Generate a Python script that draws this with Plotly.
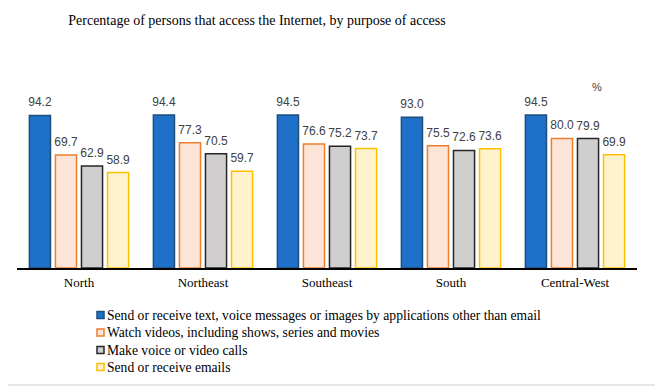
import plotly.graph_objects as go

regions = ["North", "Northeast", "Southeast", "South", "Central-West"]
series_names = [
    "Send or receive text, voice messages or images by applications other than email",
    "Watch videos, including shows, series and movies",
    "Make voice or video calls",
    "Send or receive emails",
]
apps_values = [94.2, 94.4, 94.5, 93.0, 94.5]
videos_values = [69.7, 77.3, 76.6, 75.5, 80.0]
calls_values = [62.9, 70.5, 75.2, 72.6, 79.9]
emails_values = [58.9, 59.7, 73.7, 73.6, 69.9]

fills = ["#1F70C8", "#FCE4D6", "#D0CECE", "#FFF2CC"]
lines = ["#1F4E79", "#ED7D31", "#262626", "#FFC000"]

OFF = 8  # default page body margin
W, H = 663 - OFF, 392 - OFF
# plot area in page pixels: x 17..637, y 106..268
L = 17 - OFF
R = W - (637 - OFF)
T = 106 - OFF
B = H - (268 - OFF)
pw, ph = W - L - R, H - T - B

def px_x(x):
    return (x - OFF - L) / pw

def px_y(y):
    return (H - B - (y - OFF)) / ph

fig = go.Figure()
all_vals = [apps_values, videos_values, calls_values, emails_values]
for i, (name, vals, fc, lc) in enumerate(zip(series_names, all_vals, fills, lines)):
    fig.add_trace(go.Bar(
        x=regions, y=vals, name=name, offsetgroup=str(i),
        marker=dict(color=fc, line=dict(color=lc, width=1.5)),
        showlegend=False, hoverinfo="skip",
    ))
for i, vals in enumerate(all_vals):
    fig.add_trace(go.Scatter(
        x=regions, y=vals, mode="markers+text", offsetgroup=str(i),
        text=[f"{v:.1f}" for v in vals], textposition="top center",
        textfont=dict(family="Liberation Sans", size=12, color="#404040"),
        marker=dict(size=8, opacity=0), showlegend=False, cliponaxis=False,
        hoverinfo="skip",
    ))

annotations = [dict(
    text="%", x=px_x(597), y=px_y(87), xref="paper", yref="paper",
    xanchor="center", yanchor="middle",
    showarrow=False, font=dict(family="Liberation Sans", size=11, color="#404040"),
)]
shapes = [dict(
    type="rect", xref="paper", yref="paper",
    x0=px_x(7), x1=px_x(656), y0=px_y(385), y1=px_y(3),
    line=dict(color="#E6E6E6", width=2), fillcolor="rgba(0,0,0,0)", layer="below",
)]
# custom legend
row_y = [315, 332.5, 350, 367]
for name, fc, lc, yy in zip(series_names, fills, lines, row_y):
    shapes.append(dict(
        type="rect", xref="paper", yref="paper",
        x0=px_x(97), x1=px_x(104), y0=px_y(yy + 3.5), y1=px_y(yy - 3.5),
        line=dict(color=lc, width=1.5), fillcolor=fc,
    ))
    annotations.append(dict(
        text=name, x=px_x(105), y=px_y(yy), xref="paper", yref="paper",
        xanchor="left", yanchor="middle", showarrow=False,
        font=dict(family="Liberation Serif", size=13.6, color="#000000"),
    ))

fig.update_layout(
    width=W, height=H,
    margin=dict(l=L, r=R, t=T, b=B, autoexpand=False),
    paper_bgcolor="white", plot_bgcolor="white",
    barmode="group", bargap=0.16, bargroupgap=0.19,
    scattermode="group", scattergap=0.16,
    showlegend=False,
    title=dict(
        text="Percentage of persons that access the Internet, by purpose of access",
        font=dict(family="Liberation Serif", size=14, color="#000000"),
        x=px_x(257), xref="paper", xanchor="center",
        y=1 - (20 - OFF) / H, yanchor="middle",
    ),
    xaxis=dict(
        showline=True, linecolor="#000000", linewidth=1.5,
        ticks="", showgrid=False, ticklabelstandoff=2,
        tickfont=dict(family="Liberation Serif", size=13, color="#000000"),
    ),
    yaxis=dict(range=[0, 100], visible=False, showgrid=False),
    annotations=annotations,
    shapes=shapes,
)

fig.write_html("out.html")
